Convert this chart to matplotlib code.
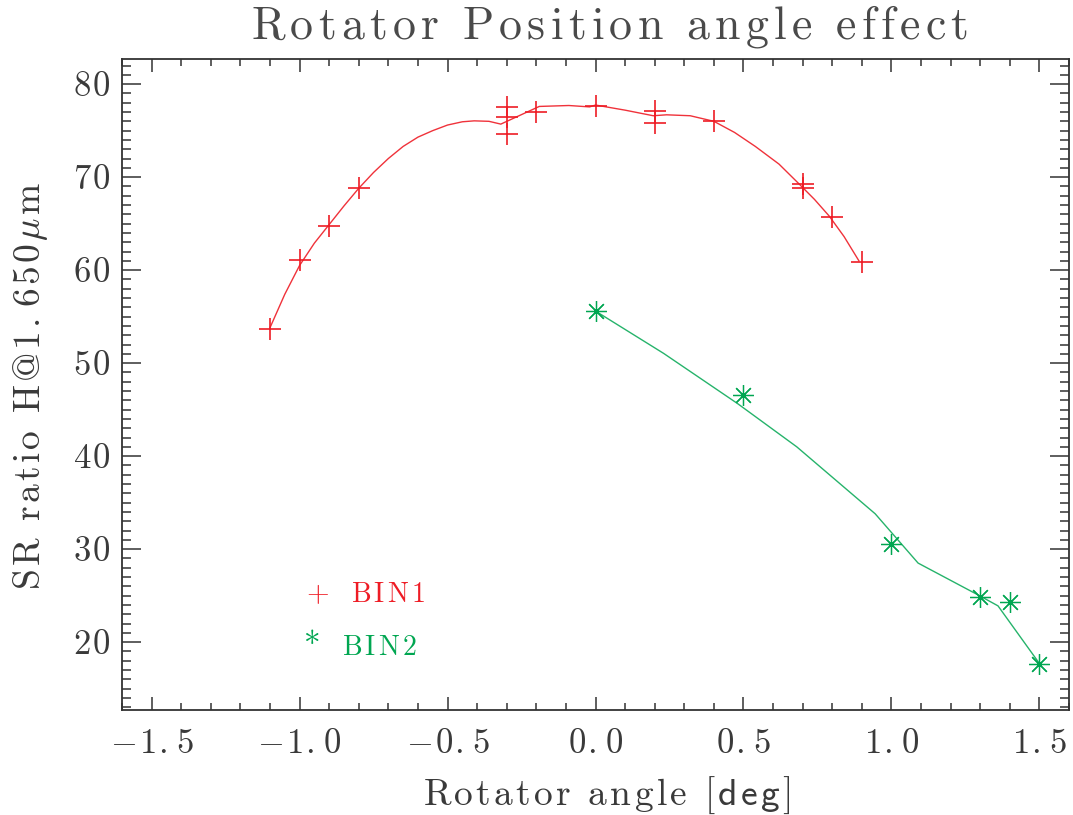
import numpy as np
import matplotlib
matplotlib.use("Agg")
from matplotlib import pyplot as plt
from matplotlib.ticker import MultipleLocator

plt.rcParams['font.family'] = ['cmr10', 'DejaVu Serif']
plt.rcParams['mathtext.fontset'] = 'cm'
plt.rcParams['axes.unicode_minus'] = False

# BIN1 measurements (red +)
bin1_x = [-1.1, -1.0, -0.9, -0.8, -0.3, -0.3, -0.3, -0.2, 0.0, 0.2, 0.2, 0.4, 0.7, 0.7, 0.8, 0.9]
bin1_y = [53.7, 61.1, 64.7, 68.8, 77.5, 76.5, 74.6, 77.0, 77.7, 77.1, 75.8, 76.0, 69.3, 68.8, 65.7, 60.9]
# smoothed BIN1 curve
fit1_x = [-1.10, -1.05, -1.00, -0.95, -0.90, -0.85, -0.80, -0.75, -0.70, -0.65, -0.60, -0.55,
          -0.50, -0.45, -0.41, -0.36, -0.32, -0.19, -0.09, -0.02, 0.00, 0.10, 0.195, 0.24,
          0.32, 0.40, 0.47, 0.54, 0.62, 0.69, 0.74, 0.79, 0.84, 0.89]
fit1_y = [53.8, 57.4, 60.5, 62.9, 64.9, 66.9, 68.8, 70.5, 72.0, 73.3, 74.3, 75.0,
          75.6, 75.95, 76.05, 76.0, 75.7, 77.6, 77.7, 77.55, 77.75, 77.2, 76.6, 76.7,
          76.6, 76.0, 74.8, 73.3, 71.4, 69.2, 67.6, 65.8, 63.6, 61.0]

# BIN2 measurements (green *)
bin2_x = [0.0, 0.5, 1.0, 1.3, 1.4, 1.5]
bin2_y = [55.6, 46.6, 30.6, 24.9, 24.3, 17.7]
fit2_x = [0.0, 0.23, 0.48, 0.68, 0.945, 1.09, 1.30, 1.36, 1.50]
fit2_y = [55.6, 51.05, 45.65, 41.0, 33.8, 28.5, 24.95, 23.9, 17.7]

xticks = [-1.5, -1.0, -0.5, 0.0, 0.5, 1.0, 1.5]
xticklabels = ['-1.5', '-1.0', '-0.5', '0.0', '0.5', '1.0', '1.5']
yticks = [20, 30, 40, 50, 60, 70, 80]
yticklabels = ['20', '30', '40', '50', '60', '70', '80']

red = '#ee1c25'
green = '#00a651'
axcol = '#333333'
txtcol = '#3a3a3a'


def tracked(s, gap=0.1):
    # IDL-style letter spacing via mathtext; text in {} is set sans-serif
    out = []
    sans = False
    for ch in s:
        if ch == '{':
            sans = True
        elif ch == '}':
            sans = False
        elif ch == ' ':
            out.append(r'\ ')
        elif ch == 'μ':
            out.append(r'\mu')
        elif ch == '-':
            out.append('-')
        elif sans:
            out.append(r'\mathsf{%s}' % ch)
        else:
            out.append(r'\mathrm{%s}' % ch)
    return '$' + (r'\hspace{%g}' % gap).join(out) + '$'


fig = plt.figure(figsize=(10.73, 8.15), dpi=100)
ax = fig.add_axes([0.1137, 0.1288, 0.8826, 0.7988])

ax.plot(fit1_x, fit1_y, color=red, lw=1.0, alpha=0.9)
ax.plot(bin1_x, bin1_y, ls='none', marker='+', ms=16, mew=1.2, color=red)
ax.plot(fit2_x, fit2_y, color=green, lw=1.0, alpha=0.85)
ax.plot(bin2_x, bin2_y, ls='none', marker=(8, 2, 0), ms=15, mew=0.9, color=green)

ax.set_xlim(-1.6, 1.6)
ax.set_ylim(min(bin2_y) - 5, max(bin1_y) + 5)

ax.set_xticks(xticks)
ax.set_xticklabels([tracked(t, 0.07) for t in xticklabels])
ax.set_yticks(yticks)
ax.set_yticklabels([tracked(t, 0.07) for t in yticklabels])
ax.xaxis.set_minor_locator(MultipleLocator(0.1))
ax.yaxis.set_minor_locator(MultipleLocator(1))

for s in ax.spines.values():
    s.set_color(axcol)
    s.set_linewidth(1.3)
ax.tick_params(axis='both', which='both', direction='in', top=True, right=True,
               color=axcol, width=1.1, labelcolor=txtcol, labelsize=25)
ax.tick_params(axis='x', which='major', length=9.5, pad=13)
ax.tick_params(axis='x', which='minor', length=4.8)
ax.tick_params(axis='y', which='major', length=13.7, pad=8)
ax.tick_params(axis='y', which='minor', length=6.5)

fig.text(0.5676, 0.953, tracked('Rotator Position angle effect', 0.13),
         fontsize=33, color='#4a4a4a', ha='center', va='baseline')
fig.text(0.565, 0.012, tracked('Rotator angle [{deg}]', 0.1),
         fontsize=27, color=txtcol, ha='center', va='baseline')
fig.text(0.037, 0.5264, tracked('SR ratio H@1.650μm', 0.1), rotation=90,
         rotation_mode='anchor', fontsize=27, color=txtcol, ha='center', va='baseline')

# legend drawn as text, like the original
ax.text(0.206, 0.166, tracked('+'), transform=ax.transAxes, color=red, fontsize=21,
        ha='center', va='baseline')
ax.text(0.2415, 0.166, tracked('BIN1', 0.13), transform=ax.transAxes, color=red, fontsize=20,
        va='baseline')
ax.text(0.2003, 0.084, '*', transform=ax.transAxes, color=green, fontsize=24,
        ha='center', va='baseline', fontweight='bold')
ax.text(0.232, 0.084, tracked('BIN2', 0.13), transform=ax.transAxes, color=green, fontsize=20,
        va='baseline')

fig.savefig('out.png', dpi=100)
